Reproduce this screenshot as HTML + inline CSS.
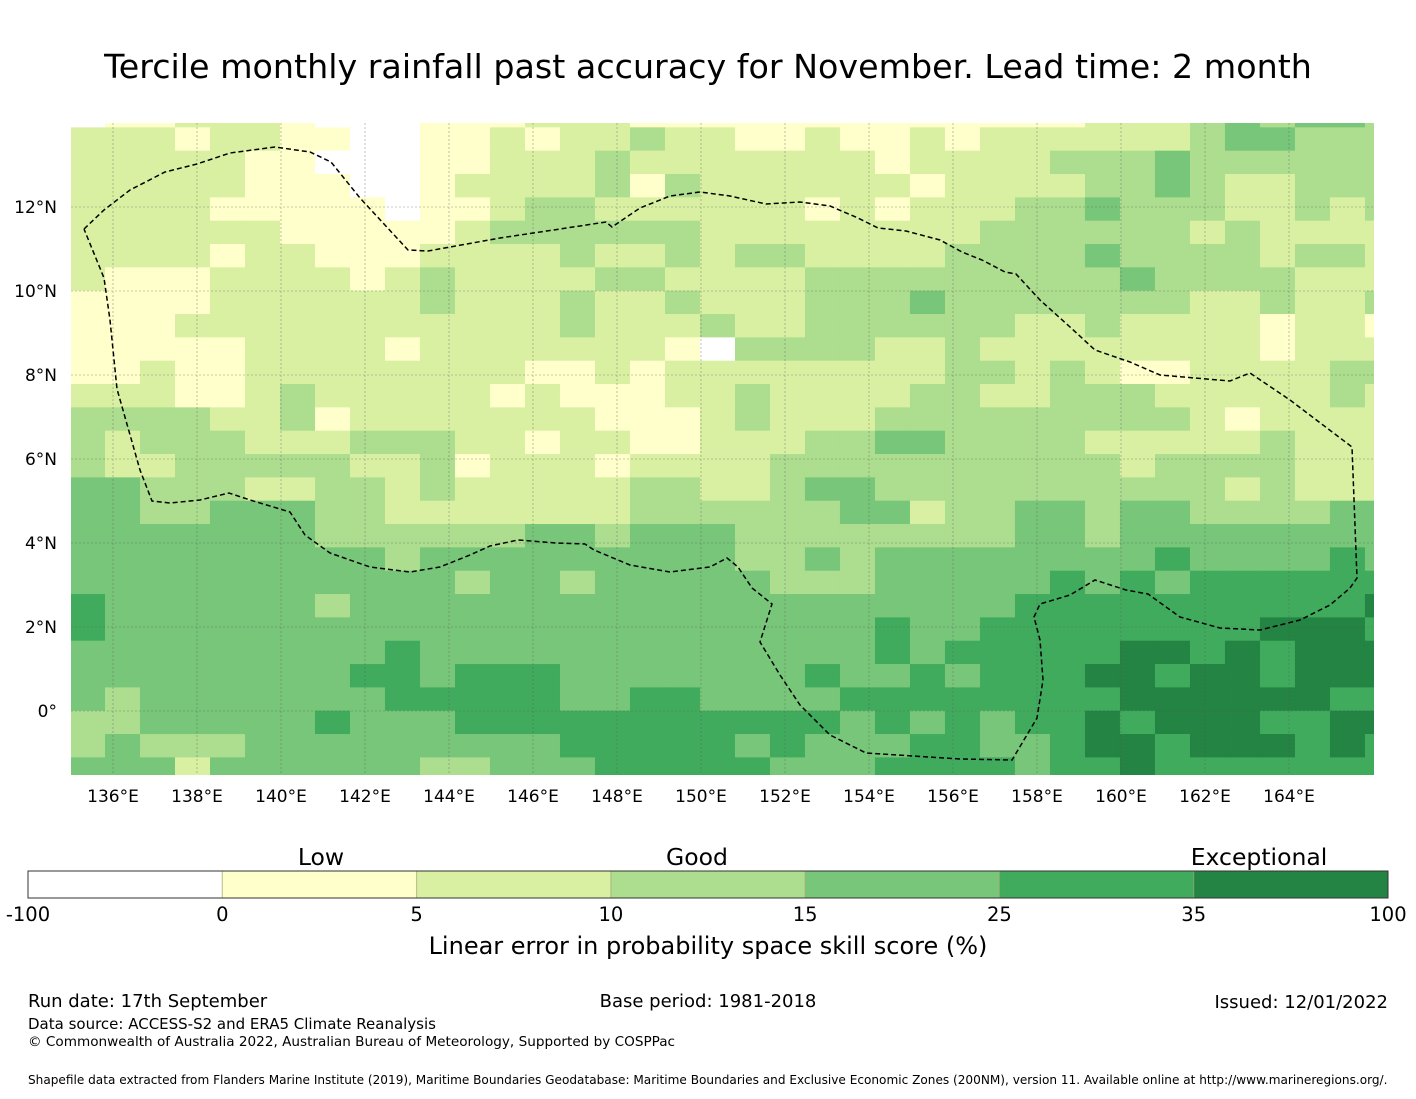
<!DOCTYPE html>
<html><head><meta charset="utf-8">
<style>
html,body{margin:0;padding:0;background:#fff;}
body{width:1416px;height:1095px;position:relative;overflow:hidden;font-family:"DejaVu Sans","Liberation Sans",sans-serif;}
svg text{font-family:"DejaVu Sans","Liberation Sans",sans-serif;}
</style></head>
<body>
<svg id="chart" width="1416" height="1095" viewBox="0 0 1416 1095" xmlns="http://www.w3.org/2000/svg">
<text x="708" y="78" font-size="33.3" text-anchor="middle" fill="#000">Tercile monthly rainfall past accuracy for November. Lead time: 2 month</text>
<g id="map"></g>
<g id="cbar"></g>
<text x="708" y="954" font-size="24" text-anchor="middle">Linear error in probability space skill score (%)</text>
<text x="28" y="1007" font-size="18">Run date: 17th September</text>
<text x="708" y="1007" font-size="18" text-anchor="middle">Base period: 1981-2018</text>
<text x="1388" y="1008" font-size="18" text-anchor="end">Issued: 12/01/2022</text>
<text x="28" y="1029" font-size="15">Data source: ACCESS-S2 and ERA5 Climate Reanalysis</text>
<text x="28" y="1046" font-size="13.6">© Commonwealth of Australia 2022, Australian Bureau of Meteorology, Supported by COSPPac</text>
<text x="28" y="1084" font-size="12.1">Shapefile data extracted from Flanders Marine Institute (2019), Maritime Boundaries Geodatabase: Maritime Boundaries and Exclusive Economic Zones (200NM), version 11. Available online at http://www.marineregions.org/.</text>
</svg>
<script>
// category colours (index = skill class)
const classColors = ["#ffffff","#ffffcc","#d9f0a3","#addd8e","#78c679","#41ab5d","#238443"];
const classEdges = ["-100","0","5","10","15","25","35","100"];
const classGroups = ["Low","Good","Exceptional"];
const lonTicks = [136,138,140,142,144,146,148,150,152,154,156,158,160,162,164];
const latTicks = [12,10,8,6,4,2,0];
// grid rows top (north) to bottom (south), one char per column (skill class)
const gridRows = [
"011222100011122211"+"11111111111"+"222343443",
"2221221100112"+"1223221121121"+"222222344333",
"2222211000112"+"2232222222122"+"223334333333",
"2222211100122"+"2231322222212"+"222334322333",
"2222111110112"+"3322222212122"+"233433322323",
"2222221111123"+"3333322222222"+"333333232222",
"2222122111222"+"2322323322223"+"333433332332",
"2111222212322"+"2233222233333"+"333343333222",
"1111222222322"+"2322322233343"+"333333223223",
"1112222222222"+"2322232233333"+"322322221221",
"1111122221222"+"2222103333223"+"222222221222",
"1121122222222"+"1121222222223"+"323211222233",
"2221123222221"+"2111223222233"+"223332222232",
"3333223122222"+"2211123222333"+"333333212222",
"3233322233322"+"1221122233443"+"333222223222",
"3223333322312"+"2212222333333"+"333323333222",
"4433322332322"+"2223322344333"+"333333323222",
"4433444332222"+"2223333334423"+"344344333344",
"4444444333333"+"4434443333333"+"344344444444",
"4444444443444"+"4444443343444"+"444445444454",
"4444444444434"+"4344444333444"+"445454555555",
"5444444344444"+"4444444444444"+"455555555556",
"5444444444444"+"4444444444544"+"555555556665",
"4444444445444"+"4444444444545"+"555566565666",
"4444444455455"+"5444444454454"+"555665665666",
"4344444445555"+"5445544445555"+"555566666655",
"3344444544455"+"5555555554545"+"455656665566",
"3433344444444"+"4555554544455"+"445665666565",
"4442444444334"+"4455555444555"+"545565555555"
];
// EEZ boundary (lon, lat)
const boundaryLon = [];
const boundaryLat = [];
(function(){
  const px=[[84,229],[104,210],[130,190],[165,172],[197,164],[230,153],[275,147],[310,152],[331,162],[360,198],[408,250],[428,251],[500,238],[560,229],[606,222],[612,227],[640,208],[670,196],[700,192],[730,196],[766,204],[800,202],[830,206],[858,218],[878,228],[906,231],[940,240],[962,252],[982,260],[1005,272],[1016,274],[1040,300],[1070,327],[1095,350],[1130,362],[1160,375],[1230,381],[1250,373],[1290,400],[1352,447],[1357,578],[1350,588],[1330,605],[1300,620],[1260,630],[1220,628],[1180,617],[1148,594],[1126,590],[1095,580],[1070,595],[1040,604],[1034,617],[1040,640],[1043,680],[1037,718],[1012,760],[960,759],[866,753],[830,735],[800,705],[780,675],[760,642],[772,604],[752,588],[738,567],[727,558],[710,567],[670,572],[630,565],[594,550],[585,544],[556,543],[518,540],[490,546],[470,555],[440,567],[410,572],[370,567],[330,553],[305,535],[290,512],[250,500],[229,493],[200,500],[170,503],[152,501],[140,470],[117,389],[110,320],[104,278],[84,229]];
  px.forEach(p=>{boundaryLon.push(+(136+(p[0]-113)/42).toFixed(3));boundaryLat.push(+(12-(p[1]-207)/42).toFixed(3));});
})();

const NS="http://www.w3.org/2000/svg";
function mk(tag,attrs,parent){const e=document.createElementNS(NS,tag);for(const k in attrs)e.setAttribute(k,attrs[k]);parent.appendChild(e);return e;}
// axis functions
const pxPerDeg=42;
const xScale = lon => 113 + (lon-136)*pxPerDeg;
const yScale = lat => 207 - (lat-12)*pxPerDeg;
const lonStep = 0.8333, latStep = 0.5556;
const lon0 = 134.9762, lat0 = 14.4524; // grid origin (NW corner of first cell)
const mapL=71,mapR=1374,mapT=123,mapB=775;

const map=document.getElementById('map');
const defs=mk('defs',{},map);
const cp=mk('clipPath',{id:'mapclip'},defs);
mk('rect',{x:mapL,y:mapT,width:mapR-mapL,height:mapB-mapT},cp);
const cells=mk('g',{'clip-path':'url(#mapclip)'},map);


gridRows.forEach((row,r)=>{
  for(let c=0;c<row.length;c++){
    const v=+row[c];
    const x1=xScale(lon0+c*lonStep), x2=xScale(lon0+(c+1)*lonStep);
    const y1=yScale(lat0-r*latStep), y2=yScale(lat0-(r+1)*latStep);
    const rc=mk('rect',{x:x1.toFixed(2),y:y1.toFixed(2),width:(x2-x1+0.4).toFixed(2),height:(y2-y1+0.4).toFixed(2),fill:classColors[v]},cells);
    
    
  }
});
// gridlines
const gl=mk('g',{stroke:'#555','stroke-width':0.6,'stroke-dasharray':'2,2',opacity:0.6},map);


lonTicks.forEach(l=>{mk('line',{x1:xScale(l),x2:xScale(l),y1:mapT,y2:mapB},gl);});
latTicks.forEach(l=>{mk('line',{x1:mapL,x2:mapR,y1:yScale(l),y2:yScale(l)},gl);});
// boundary
let d='';
boundaryLon.forEach((lo,i)=>{d+=(i?'L':'M')+xScale(lo).toFixed(1)+','+yScale(boundaryLat[i]).toFixed(1);});
const bd=mk('path',{d:d,fill:'none',stroke:'#000','stroke-width':1.5,'stroke-dasharray':'5,3'},map);


// tick labels
lonTicks.forEach(l=>{
  const t=mk('text',{x:xScale(l),y:802,'font-size':17,'text-anchor':'middle'},map);
  t.textContent=l+'°E';
  
  
});
latTicks.forEach(l=>{
  const t=mk('text',{x:57,y:yScale(l)+6,'font-size':17,'text-anchor':'end'},map);
  t.textContent=l===0?'0°':l+'°N';
  
  
});
// colorbar
const cb=document.getElementById('cbar');
const cbL=28,cbR=1388,cbT=871,cbH=27;
const segW=(cbR-cbL)/classColors.length;
classColors.forEach((col,i)=>{
  const r=mk('rect',{x:cbL+i*segW,y:cbT,width:segW,height:cbH,fill:col},cb);
  
  
  if(i>0){mk('line',{x1:cbL+i*segW,x2:cbL+i*segW,y1:cbT,y2:cbT+cbH,stroke:'#a0a070','stroke-width':1.2,opacity:0.6},cb);}
});
mk('rect',{x:cbL,y:cbT,width:cbR-cbL,height:cbH,fill:'none',stroke:'#333','stroke-width':1},cb);
classEdges.forEach((e,i)=>{
  const t=mk('text',{x:cbL+i*segW,y:921,'font-size':19.5,'text-anchor':'middle'},cb);
  t.textContent=e;
  
  
});
const groupX=[321,697,1259];
classGroups.forEach((g,i)=>{
  const t=mk('text',{x:groupX[i],y:865,'font-size':23.5,'text-anchor':'middle'},cb);
  t.textContent=g;
  
  
});
</script>
</body></html>
